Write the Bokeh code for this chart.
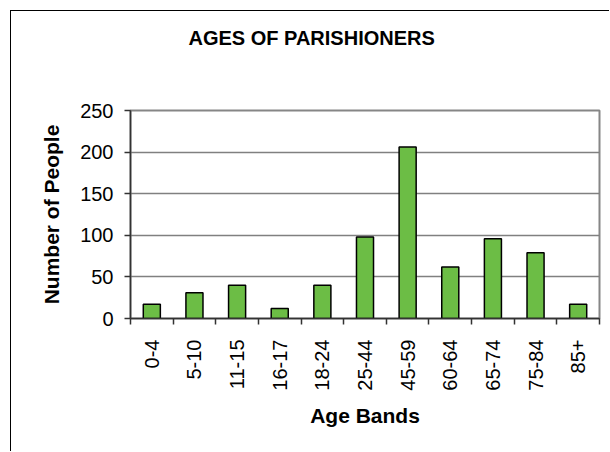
import numpy as np
from bokeh.plotting import figure
from bokeh.models import Range1d, FixedTicker, Title
from bokeh.embed import file_html
from bokeh.resources import INLINE

# ---- data ----
age_bands = ["0-4", "5-10", "11-15", "16-17", "18-24", "25-44",
             "45-59", "60-64", "65-74", "75-84", "85+"]
people = [17, 31, 40, 12, 40, 98, 206, 62, 96, 79, 17]
y_ticks = [0, 50, 100, 150, 200, 250]
title_text = "AGES OF PARISHIONERS"
x_label = "Age Bands"
y_label = "Number of People"

n = len(age_bands)
centers = [i + 0.5 for i in range(n)]
bounds = list(range(n + 1))

FONT = "Liberation Sans"

p = figure(width=599, height=441, output_backend="svg", toolbar_location=None,
           x_range=Range1d(0, n), y_range=Range1d(0, y_ticks[-1]),
           min_border_left=119, min_border_top=99, min_border_right=11,
           min_border_bottom=134,
           margin=(10, 0, 0, 10),
           styles={"border-left": "1px solid #000", "border-top": "1px solid #000"})

p.background_fill_color = "white"
p.border_fill_color = "white"
p.outline_line_color = "#868686"
p.outline_line_width = 2

# empty spacer between the plot area and the title
p.add_layout(Title(text=" ", text_font_size="1px", standoff=59), "above")

# title
p.title.text = title_text
p.title.text_font = FONT
p.title.text_font_size = "20px"
p.title.text_font_style = "bold"
p.title.text_color = "black"
p.title.align = "left"
p.title.offset = 58
p.title.standoff = 0

# bars
p.vbar(x=centers, top=people, width=0.4, fill_color="#6CBD45",
       line_color="black", line_width=1.5)

# grid
p.xgrid.visible = False
p.ygrid.ticker = FixedTicker(ticks=y_ticks)
p.ygrid.grid_line_color = "#808080"
p.ygrid.grid_line_width = 1.5

# y axis
ya = p.yaxis[0]
ya.ticker = FixedTicker(ticks=y_ticks)
ya.axis_label = y_label
ya.axis_label_text_font = FONT
ya.axis_label_text_font_size = "21px"
ya.axis_label_text_font_style = "bold"
ya.axis_label_text_color = "black"
ya.axis_label_standoff = 14
ya.major_label_text_font = FONT
ya.major_label_text_font_size = "20px"
ya.major_label_text_color = "black"
ya.major_label_standoff = 11
ya.major_tick_out = 6
ya.major_tick_in = 0
ya.minor_tick_out = 0
ya.minor_tick_in = 0
ya.axis_line_color = "#333333"
ya.axis_line_width = 1.5
ya.major_tick_line_color = "#333333"
ya.major_tick_line_width = 1.5

# x axis
xa = p.xaxis[0]
xa.ticker = FixedTicker(ticks=centers, minor_ticks=bounds)
xa.major_label_overrides = {c: b for c, b in zip(centers, age_bands)}
xa.major_label_orientation = np.pi / 2
xa.major_label_text_font = FONT
xa.major_label_text_font_size = "20px"
xa.major_label_text_color = "black"
xa.major_label_standoff = 15
xa.major_tick_out = 0
xa.major_tick_in = 0
xa.minor_tick_out = 6
xa.minor_tick_in = 0
xa.minor_tick_line_color = "#333333"
xa.minor_tick_line_width = 1.5
xa.axis_label = x_label
xa.axis_label_text_font = FONT
xa.axis_label_text_font_size = "21px"
xa.axis_label_text_font_style = "bold"
xa.axis_label_text_color = "black"
xa.axis_label_standoff = 10
xa.axis_line_color = "#333333"
xa.axis_line_width = 1.5

open("out.html", "w").write(file_html(p, INLINE))
